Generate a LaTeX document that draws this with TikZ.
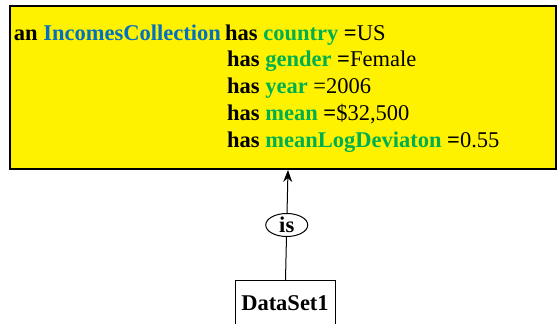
\documentclass[tikz,border=0pt]{standalone}
\usepackage{fontspec}
\setmainfont{Liberation Serif}
\usetikzlibrary{arrows.meta, shapes.geometric}
\definecolor{classblue}{RGB}{0,112,192}
\definecolor{propgreen}{RGB}{0,176,80}
\newcommand{\prop}[1]{\textcolor{propgreen}{\textbf{#1}}}

\begin{document}
\begin{tikzpicture}[x=1pt, y=-1pt,
            every node/.style={font=\fontsize{22.5}{27}\selectfont, inner sep=0pt}, % same font everywhere
            row/.style={anchor=base west},
            conceptbox/.style={rectangle, draw, line width=1.6pt, fill=yellow, anchor=north west},
            instbox/.style={rectangle, draw, line width=1pt, fill=white, minimum width=100, minimum height=50, anchor=north west},
            relation/.style={ellipse, draw, line width=1pt, fill=white, minimum width=42, minimum height=23}
            ]
        \useasboundingbox (0,0) rectangle (557,324);

        % the collection frame with its property rows
        \node[conceptbox, minimum width=546, minimum height=163] (coll) at (9,5) {};
        \node[anchor=base east] (intro) at (221,40) {\textbf{an} \textcolor{classblue}{\textbf{IncomesCollection}}};
        \node[row] (country) at (225,40) {\textbf{has} \prop{country} \textbf{=}US};
        \node[row] (gender) at (227,66) {\textbf{has} \prop{gender} \textbf{=}Female};
        \node[row] (year) at (227,93) {\textbf{has} \prop{year} =2006};
        \node[row] (mean) at (227,120) {\textbf{has} \prop{mean} \textbf{=}\$32,500};
        \node[row] (deviation) at (227,147) {\textbf{has} \prop{meanLogDeviaton} \textbf{=}0.55};

        % the instance below, partly cut off
        \node[instbox] (ds) at (235,280) {};
        \node[anchor=base] (dsname) at (285,310) {\textbf{DataSet1}};
        \coordinate (tip) at (288,170);
        \draw[line width=1pt, -{Stealth[length=12pt, width=9pt]}] (ds.north) -- node[relation] (is) {\textbf{is}} (tip);
\end{tikzpicture}
\end{document}
